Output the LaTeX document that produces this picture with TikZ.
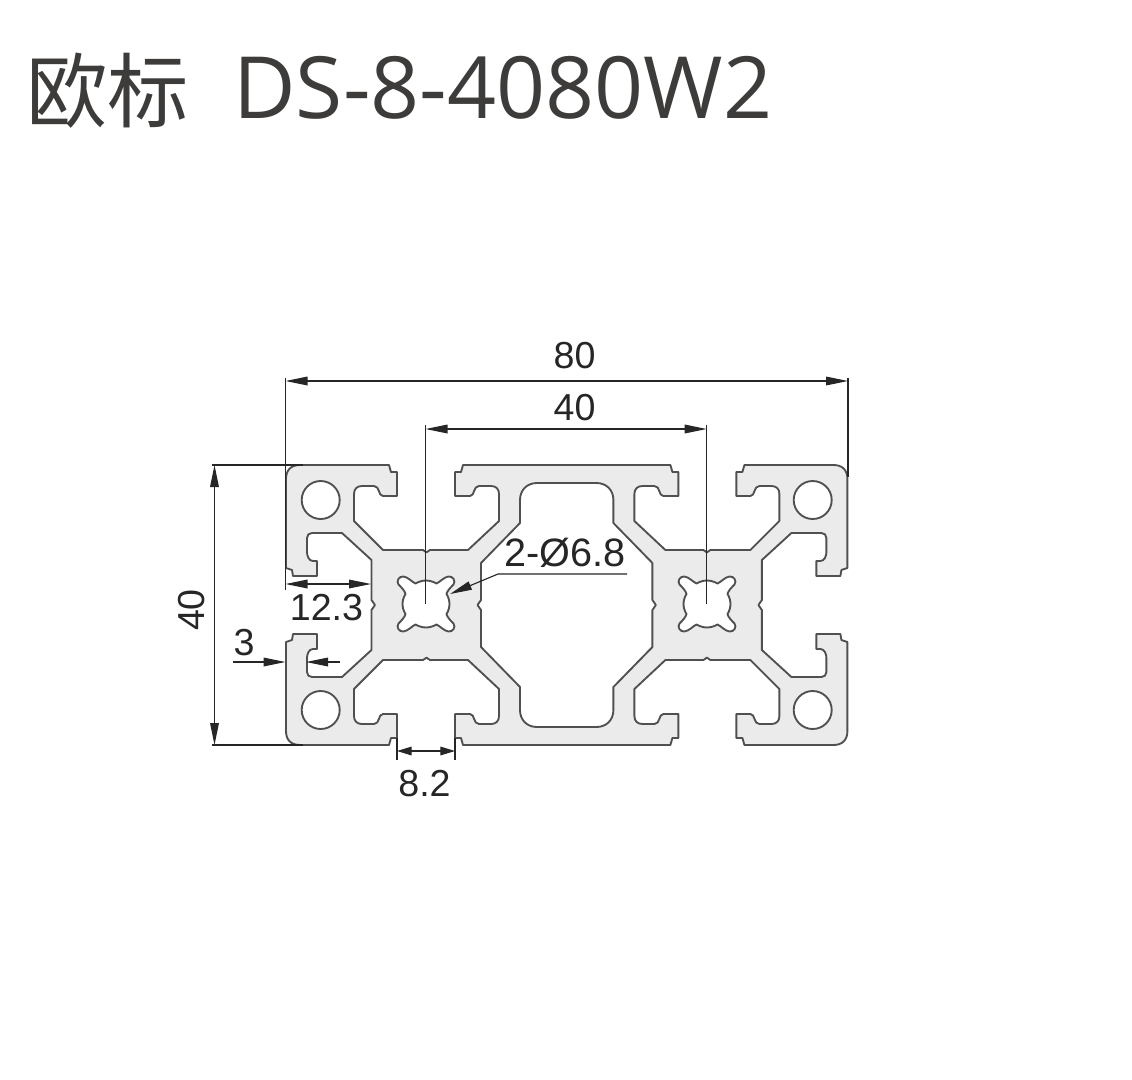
\documentclass[tikz,border=0pt]{standalone}
\usepackage{fontspec}
\setmainfont{Liberation Sans}
\newfontfamily\titlefont{Noto Sans CJK SC}
\newfontfamily\codefont{Open Sans}
\usetikzlibrary{arrows.meta}
\definecolor{metal}{HTML}{EBEBEB}
\definecolor{edge}{HTML}{505050}
\definecolor{dimc}{HTML}{262626}
\definecolor{titlec}{HTML}{3E3C3A}
\tikzset{
  prof/.style={draw=edge,line width=1.4pt,line join=round},
  hole/.style={draw=edge,line width=1.4pt,fill=white},
  dimline/.style={draw=dimc,line width=0.85pt},
  tipa/.style={-{Triangle[length=16.5pt,width=6.5pt]}},
  tipb/.style={{Triangle[length=16.5pt,width=6.5pt]}-{Triangle[length=16.5pt,width=6.5pt]}},
  tips/.style={{Triangle[length=11pt,width=6.5pt]}-},
  lab/.style={text=dimc,font=\fontsize{28.2pt}{30pt}\selectfont,inner sep=0pt},
}
% outer boundary of the top-left quarter, image pixels
\newcommand{\quarterpath}{
  (567,465) -- (463,465) -- (461,472) -- (455,472) -- (455,496) -- (470,496)
  .. controls (475,496) and (473,486) .. (479,486) -- (491,486)
  .. controls (496,486) and (499,489) .. (499,494) -- (499,521) -- (468,550)
  -- (430,550) .. controls (428,550) and (428,552.5) .. (426.5,552.5)
  .. controls (425,552.5) and (425,550) .. (423,550) -- (383,550) -- (354,521) -- (354,494)
  .. controls (354,489) and (357,486) .. (362,486) -- (374,486)
  .. controls (380,486) and (378,496) .. (383,496) -- (397,496) -- (397,472)
  -- (391,472) -- (389,465) -- (300,465)
  .. controls (291,465) and (286,470) .. (286,479) -- (286,568) -- (292,570) -- (293,576)
  -- (317,576) -- (317,561) -- (313,561) .. controls (309,561) and (307,556) .. (307,552)
  -- (307,538) .. controls (307,535) and (309,533) .. (312,533) -- (342,533) -- (371.5,560)
  -- (371.5,600) .. controls (371.5,602) and (375,603) .. (375,605)
}
% quarter of the central hollow
\newcommand{\cavitypath}{
  (567,483) -- (537,483) .. controls (527,483) and (520,490) .. (520,500) -- (520,523) -- (481,563)
  -- (481,600) .. controls (481,602) and (477.5,603) .. (477.5,605)
}
% quarter of the core hole, relative to its centre
\newcommand{\corepath}{
  (0,-23.5) .. controls (-4,-23.5) and (-8,-22) .. (-10.5,-20.5)
  .. controls (-14,-22) and (-18,-27) .. (-22.5,-27.5)
  .. controls (-27,-28) and (-30,-23) .. (-27.5,-19.5)
  .. controls (-25,-17) and (-21,-13) .. (-20.5,-10)
  .. controls (-22.5,-7) and (-23.5,-3) .. (-23.5,0)
}
\begin{document}
\begin{tikzpicture}[x=0.75pt,y=-0.75pt]
\useasboundingbox (0,0) rectangle (1132,1079);
% metal body
\foreach \sx/\sy in {1/1,-1/1,1/-1,-1/-1}{
  \begin{scope}[shift={(566.7,605)},xscale=\sx,yscale=\sy,shift={(-566.7,-605)}]
    \fill[metal] \quarterpath -- (375,606) -- (567,606) -- cycle;
  \end{scope}
}
\foreach \sx/\sy in {1/1,-1/1,1/-1,-1/-1}{
  \begin{scope}[shift={(566.7,605)},xscale=\sx,yscale=\sy,shift={(-566.7,-605)}]
    \fill[white] \cavitypath -- (477.5,606) -- (567,606) -- cycle;
  \end{scope}
}
\foreach \sx/\sy in {1/1,-1/1,1/-1,-1/-1}{
  \begin{scope}[shift={(566.7,605)},xscale=\sx,yscale=\sy,shift={(-566.7,-605)}]
    \draw[prof] \quarterpath;
    \draw[prof] \cavitypath;
  \end{scope}
}
% core holes
\foreach \cx in {426,707}{
  \foreach \sx/\sy in {1/1,-1/1,1/-1,-1/-1}{
    \begin{scope}[shift={(\cx,604)},xscale=\sx,yscale=\sy]
      \fill[white] \corepath -- (0,0.5) -- (0.5,0.5) -- (0.5,-23.5) -- cycle;
    \end{scope}
  }
  \foreach \sx/\sy in {1/1,-1/1,1/-1,-1/-1}{
    \begin{scope}[shift={(\cx,604)},xscale=\sx,yscale=\sy]
      \draw[prof] \corepath;
    \end{scope}
  }
}
% corner holes
\node[hole,circle,minimum size=28.5pt,inner sep=0pt] (hTL) at (320.7,500) {};
\node[hole,circle,minimum size=28.5pt,inner sep=0pt] (hTR) at (812.7,500) {};
\node[hole,circle,minimum size=28.5pt,inner sep=0pt] (hBL) at (320.7,710) {};
\node[hole,circle,minimum size=28.5pt,inner sep=0pt] (hBR) at (812.7,710) {};
% title
\node[anchor=base west,inner sep=0pt,text=titlec,font=\titlefont\fontsize{61pt}{66pt}\selectfont] (title) at (26,121) {欧标};
\node[anchor=base west,inner sep=0pt,text=titlec,font=\codefont\fontsize{64.4pt}{70pt}\selectfont] (code) at (233,118) {DS-8-4080W2};
% dimension coordinates
\coordinate (eL1) at (285.5,378); \coordinate (eL2) at (285.5,590);
\coordinate (eR1) at (848,378);   \coordinate (eR2) at (848,477);
\coordinate (a80L) at (285.5,381); \coordinate (a80R) at (848,381);
\coordinate (e40L1) at (425.5,425); \coordinate (e40L2) at (425.5,604);
\coordinate (e40R1) at (706.7,425); \coordinate (e40R2) at (706.7,604);
\coordinate (a40L) at (425.5,429); \coordinate (a40R) at (706.7,429);
\coordinate (vT1) at (212,465); \coordinate (vT2) at (303,465);
\coordinate (vB1) at (212,745); \coordinate (vB2) at (303,745);
\coordinate (a40T) at (214.5,465); \coordinate (a40B) at (214.5,745);
\coordinate (a12L) at (285.5,584); \coordinate (a12R) at (371,584);
\coordinate (a3A) at (233,662); \coordinate (a3B) at (285.5,662);
\coordinate (a3C) at (340,662); \coordinate (a3D) at (306,662);
\coordinate (e8L1) at (397,738); \coordinate (e8L2) at (397,760);
\coordinate (e8R1) at (455,738); \coordinate (e8R2) at (455,760);
\coordinate (a8L) at (397,751); \coordinate (a8M) at (426,751); \coordinate (a8R) at (455,751);
\coordinate (lEnd) at (627,574); \coordinate (lKnee) at (498,574); \coordinate (lTip) at (450,594);
% dimension lines
\draw[dimline] (eL1) -- (eL2);
\draw[dimline] (eR1) -- (eR2);
\draw[dimline,tipb] (a80L) -- (a80R);
\draw[dimline] (e40L1) -- (e40L2);
\draw[dimline] (e40R1) -- (e40R2);
\draw[dimline,tipb] (a40L) -- (a40R);
\draw[dimline] (vT1) -- (vT2);
\draw[dimline] (vB1) -- (vB2);
\draw[dimline,tipb] (a40T) -- (a40B);
\draw[dimline,tipb] (a12L) -- (a12R);
\draw[dimline,tipa] (a3A) -- (a3B);
\draw[dimline,tipa] (a3C) -- (a3D);
\draw[dimline] (e8L1) -- (e8L2);
\draw[dimline] (e8R1) -- (e8R2);
\draw[dimline,tips] (a8L) -- (a8M);
\draw[dimline,tips] (a8R) -- (a8M);
\draw[dimline,tipa] (lEnd) -- (lKnee) -- (lTip);
% labels
\node[lab] (t80) at (574.5,356) {80};
\node[lab] (t40a) at (574.5,408) {40};
\node[lab,rotate=90] (t40b) at (192,610) {40};
\node[lab] (t12) at (326.5,608) {12.3};
\node[lab] (t3) at (244,643) {3};
\node[lab] (t8) at (424.5,784) {8.2};
\node[lab,font=\fontsize{29.7pt}{31pt}\selectfont] (tD) at (565,553) {2-Ø6.8};
\end{tikzpicture}
\end{document}
